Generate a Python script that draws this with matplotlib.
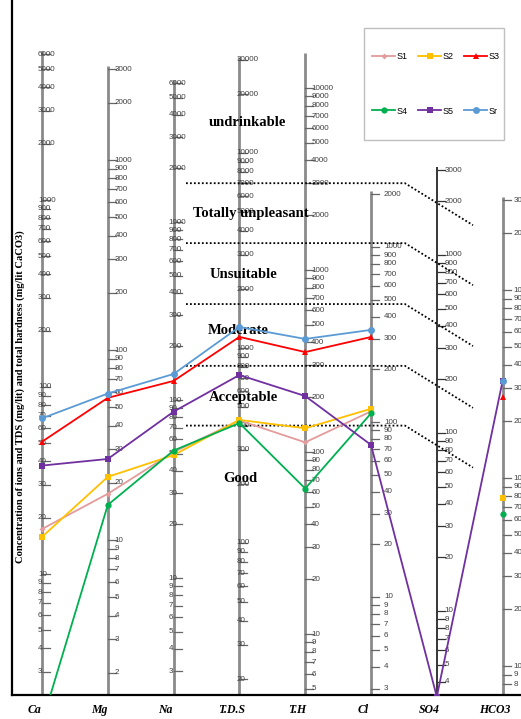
import numpy as np
import matplotlib
matplotlib.use("Agg")
import matplotlib.pyplot as plt
from matplotlib.patches import Rectangle

# ---------------------------------------------------------------- data
params = ["Ca", "Mg", "Na", "T.D.S", "T.H", "Cl", "SO4", "HCO3"]
nan = np.nan
s1 = [17.4, 17.5, 51, 425, 113, 115, nan, nan]
s2 = [15.8, 21.5, 49, 428, 135, 119, nan, 78]
s3 = [51, 56, 128, 1140, 354, 306, nan, 270]
s4 = [1.6, 15.3, 52, 412, 63, 112, nan, 64]
s5 = [38, 26.7, 86, 727, 203, 74, 3.3, 328]
sr = [68, 59, 140, 1282, 418, 336, nan, 328]
sample_names = ["S1", "S2", "S3", "S4", "S5", "Sr"]
samples = [s1, s2, s3, s4, s5, sr]

# TDS limits separating the drinking-water classes
zone_tds = [7000, 3450, 1680, 810, 400]
zone_names = ["undrinkable", "Totally unpleasant", "Unsuitable",
              "Moderate", "Acceptable", "Good"]

# ---------------------------------------------------------------- styles
colors = ["#e39b9b", "#ffc000", "#ff0000", "#00b050", "#7030a0", "#5b9bd5"]
markers = ["D", "s", "^", "o", "s", "o"]
msizes = [3, 4.5, 5, 4.5, 4.5, 5]

# each parameter has its own logarithmic scale (reference value, position, px per decade)
ref_val = [100, 100, 100, 1000, 100, 100, 100, 100]
ref_pos = [387, 350, 400, 348, 452, 422, 433, 478]
per_decade = [187, 190, 178, 195, 182, 175, 178, 188]
top_val = [6000, 3000, 6000, 30000, 15000, 2000, 3000, 3000]
label_dx = [-4, 7, -5, -3, 6, 13, 8, 11]   # tick-label offset from axis (px)
BOTTOM = 695
STEP = 65.8                                 # px between parameter axes


def to_y(i, v):
    return ref_pos[i] - per_decade[i] * (np.log10(v) - np.log10(ref_val[i]))


def bottom_value(i):
    return ref_val[i] * 10 ** (-(BOTTOM - ref_pos[i]) / per_decade[i])


fig = plt.figure(figsize=(5.21, 7.19), dpi=100)
W, H = 521, 719
left_px, right_px, top_px = 12, 545, -20
ax = fig.add_axes([left_px / W, (H - BOTTOM) / H,
                   (right_px - left_px) / W, (BOTTOM - top_px) / H])
ax.set_xlim((left_px - 42) / STEP, (right_px - 42) / STEP)
ax.set_ylim(BOTTOM, top_px)
for side in ("top", "right"):
    ax.spines[side].set_visible(False)
for side in ("left", "bottom"):
    ax.spines[side].set_linewidth(1.6)
    ax.spines[side].set_color("black")
ax.set_xticks([])
ax.set_yticks([])

tick_len = 8 / STEP
px2pt = 0.72

# ---------------------------------------------------------------- parameter axes
for i in range(len(params)):
    y_top = to_y(i, top_val[i]) - 3
    if params[i] == "SO4":
        ax.plot([i, i], [BOTTOM, y_top], color="black", lw=1.1, zorder=2,
                solid_capstyle="butt")
        tcol = "#333333"
    else:
        ax.plot([i, i], [BOTTOM, y_top], color="#8a8a8a", lw=2.0, zorder=2,
                solid_capstyle="butt")
        tcol = "#666666"
    vb = bottom_value(i)
    for k in range(0, 6):
        for d in range(1, 10):
            v = d * 10 ** k
            if v < vb or v > top_val[i] * 1.001:
                continue
            y = to_y(i, v)
            ax.plot([i, i + tick_len], [y, y], color=tcol, lw=0.9, zorder=2,
                    clip_on=False)
            ax.annotate(f"{v}", xy=(i, y), xytext=(label_dx[i] * px2pt, 0),
                        textcoords="offset points", ha="left", va="center",
                        fontsize=5.8, color="#404040", family="Liberation Sans",
                        annotation_clip=False, zorder=3)

# ---------------------------------------------------------------- class boundaries
x0, x1, x2 = (186 - 42) / STEP, (405 - 42) / STEP, (473 - 42) / STEP
for t in zone_tds:
    y = to_y(3, t)
    ax.plot([x0, x1, x2], [y, y, y + 42], color="black", lw=1.3,
            linestyle=(0, (1, 1.2)), zorder=4)

zone_label_pos = [(247, 122), (251, 213), (243, 275), (238, 330),
                  (243, 398), (240, 478)]
for name, (px, py) in zip(zone_names, zone_label_pos):
    ax.text((px - 42) / STEP, py, name, ha="center", va="center",
            fontsize=10.5, fontweight="bold", family="Liberation Serif",
            color="black", zorder=5)

# ---------------------------------------------------------------- samples
handles = []
for name, vals, c, m, ms in zip(sample_names, samples, colors, markers, msizes):
    ys = [to_y(i, v) if np.isfinite(v) else np.nan for i, v in enumerate(vals)]
    h, = ax.plot(range(len(params)), ys, color=c, lw=1.3, marker=m,
                 markersize=ms, markeredgewidth=0, zorder=6, label=name)
    handles.append(h)

# legend laid out row by row: S1 S2 S3 / S4 S5 Sr
order = [0, 3, 1, 4, 2, 5]
leg = fig.legend(handles=[handles[k] for k in order], ncol=3, loc="center left",
                 bbox_to_anchor=(372 / W, 1 - 84 / H), frameon=False,
                 borderpad=0, borderaxespad=0, handlelength=2.55,
                 handletextpad=0.15, columnspacing=1.2, labelspacing=5.0,
                 prop={"family": "Liberation Sans", "size": 6.5})
fig.add_artist(Rectangle((364 / W, 1 - 140 / H), 140 / W, 112 / H,
                         transform=fig.transFigure, fill=False,
                         edgecolor="#bfbfbf", lw=1.0))

# ---------------------------------------------------------------- axis names
for i, p in enumerate(params):
    ax.annotate(p, xy=(i, BOTTOM), xytext=(-8 * px2pt, -15 * px2pt),
                textcoords="offset points", ha="center", va="center",
                fontsize=8.5, fontweight="bold", fontstyle="italic",
                family="Liberation Serif", annotation_clip=False)

fig.text(20 / W, 1 - 397 / H,
         "Concentration of ions and TDS (mg/lit) and total hardness (mg/lit CaCO3)",
         rotation=90, ha="center", va="center", fontsize=7.6,
         fontweight="bold", family="Liberation Serif")

fig.savefig("out.png", dpi=100)
